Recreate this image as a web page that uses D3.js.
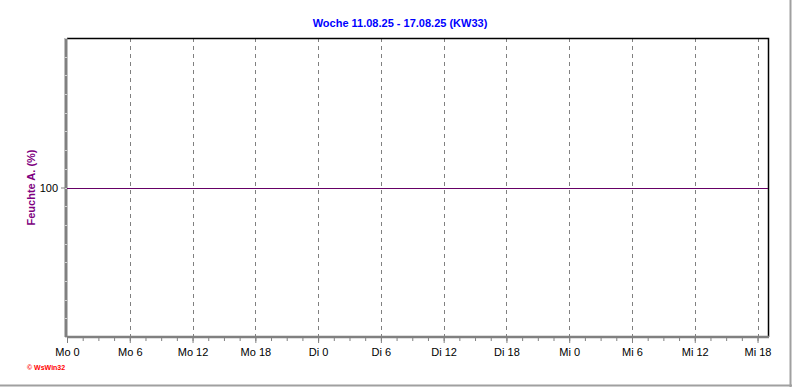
<!DOCTYPE html>
<html>
<head>
<meta charset="utf-8">
<script src="https://cdn.jsdelivr.net/npm/d3@7"></script>
<style>
  body { margin: 0; background: #fff; }
  svg { display: block; font-family: "Liberation Sans", Arial, sans-serif; }
</style>
</head>
<body>
<div id="vis"></div>
<script>
// frame size
const FRAME_WIDTH = 792;
const FRAME_HEIGHT = 387;
const MARGINS = {left: 67, right: 24, top: 38, bottom: 50};

const VIS_WIDTH = FRAME_WIDTH - MARGINS.left - MARGINS.right;
const VIS_HEIGHT = FRAME_HEIGHT - MARGINS.top - MARGINS.bottom;

// data
const TITLE = "Woche 11.08.25 - 17.08.25 (KW33)";
const Y_LABEL = "Feuchte A.  (%)";
const TICK_HOURS = [0, 6, 12, 18, 24, 30, 36, 42, 48, 54, 60, 66];
const TICK_LABELS = ["Mo 0", "Mo 6", "Mo 12", "Mo 18", "Di 0", "Di 6", "Di 12", "Di 18", "Mi 0", "Mi 6", "Mi 12", "Mi 18"];
const Y_TICKS = [100];
const HOURS = [0, 67];
const HUMIDITY = [100, 100];

const FRAME = d3.select("#vis")
  .append("svg")
    .attr("width", FRAME_WIDTH)
    .attr("height", FRAME_HEIGHT);

// scales
const X = d3.scaleLinear().domain([0, 67]).range([MARGINS.left, MARGINS.left + VIS_WIDTH]);
const Y = d3.scaleLinear().domain([99, 101]).range([MARGINS.top + VIS_HEIGHT, MARGINS.top]);

// outer frame (right + bottom)
FRAME.append("line")
  .attr("x1", FRAME_WIDTH - 1.5).attr("x2", FRAME_WIDTH - 1.5)
  .attr("y1", 0).attr("y2", FRAME_HEIGHT)
  .attr("stroke", "#a0a0a0").attr("stroke-width", 2);
FRAME.append("line")
  .attr("x1", 0).attr("x2", FRAME_WIDTH)
  .attr("y1", FRAME_HEIGHT - 1.5).attr("y2", FRAME_HEIGHT - 1.5)
  .attr("stroke", "#a0a0a0").attr("stroke-width", 2);

// title
FRAME.append("text")
  .attr("x", 400).attr("y", 27)
  .attr("text-anchor", "middle")
  .attr("font-size", "11px").attr("font-weight", "bold")
  .attr("fill", "#0000ff")
  .text(TITLE);

// vertical grid
FRAME.selectAll(".grid")
  .data(TICK_HOURS.slice(1))
  .enter()
  .append("line")
    .attr("x1", d => Math.round(X(d)) + 0.5)
    .attr("x2", d => Math.round(X(d)) + 0.5)
    .attr("y1", MARGINS.top)
    .attr("y2", MARGINS.top + VIS_HEIGHT)
    .attr("stroke", "#808080")
    .attr("stroke-dasharray", "4,4");

// top + right border
FRAME.append("path")
  .attr("d", `M${MARGINS.left},${MARGINS.top + 0.5}H${MARGINS.left + VIS_WIDTH + 0.5}V${MARGINS.top + VIS_HEIGHT}`)
  .attr("fill", "none")
  .attr("stroke", "#000")
  .attr("stroke-width", 1.5);

// x axis
const xAxis = FRAME.append("g")
  .attr("transform", `translate(0,${MARGINS.top + VIS_HEIGHT})`)
  .call(d3.axisBottom(X)
    .tickValues(d3.range(0, 67.5, 1.5))
    .tickSize(4)
    .tickFormat(""));
xAxis.select(".domain").attr("stroke", "#808080").attr("stroke-width", 2.5)
  .attr("d", `M${MARGINS.left},0H${MARGINS.left + VIS_WIDTH + 1}`);
xAxis.selectAll(".tick line").attr("stroke", "#808080");

FRAME.append("g")
  .attr("transform", `translate(0,${MARGINS.top + VIS_HEIGHT})`)
  .call(d3.axisBottom(X)
    .tickValues(TICK_HOURS)
    .tickSize(6)
    .tickFormat((d, i) => TICK_LABELS[i]))
  .call(g => g.select(".domain").remove())
  .call(g => g.selectAll(".tick line").attr("stroke", "#808080"))
  .call(g => g.selectAll(".tick text")
    .attr("font-family", "Liberation Sans, Arial, sans-serif")
    .attr("font-size", "11px").attr("fill", "#000").attr("dy", "0.9em"));

// y axis
const yAxis = FRAME.append("g")
  .attr("transform", `translate(${MARGINS.left - 1},0)`)
  .call(d3.axisLeft(Y)
    .tickValues(Y_TICKS)
    .tickSize(5)
    .tickFormat(d3.format("d")));
yAxis.select(".domain").attr("stroke", "#808080").attr("stroke-width", 3)
  .attr("d", `M0,${MARGINS.top}V${MARGINS.top + VIS_HEIGHT}`);
yAxis.selectAll(".tick line").attr("stroke", "#808080");
yAxis.selectAll(".tick text")
  .attr("font-family", "Liberation Sans, Arial, sans-serif")
  .attr("font-size", "11px").attr("fill", "#000");

// y minor ticks
FRAME.selectAll(".ymin")
  .data(d3.range(99, 101.01, 0.125))
  .enter()
  .append("line")
    .attr("x1", MARGINS.left - 2).attr("x2", MARGINS.left)
    .attr("y1", d => Math.round(Y(d)) + 0.5).attr("y2", d => Math.round(Y(d)) + 0.5)
    .attr("stroke", "#d0d0d0");

// y label
FRAME.append("text")
  .attr("transform", `translate(35,${Y(100)}) rotate(-90)`)
  .attr("text-anchor", "middle")
  .attr("font-size", "11px").attr("font-weight", "bold")
  .attr("fill", "#800080")
  .text(Y_LABEL);

// data line
const line = d3.line().x((d, i) => X(HOURS[i])).y(d => Math.round(Y(d)) + 0.5);
FRAME.append("path")
  .datum(HUMIDITY)
  .attr("d", line)
  .attr("fill", "none")
  .attr("stroke", "#660066")
  .attr("stroke-width", 1);

// copyright
FRAME.append("text")
  .attr("x", 27).attr("y", 370)
  .attr("font-size", "7px").attr("font-weight", "bold")
  .attr("fill", "#ff0000")
  .text("\u00a9 WsWin32");
</script>
</body>
</html>
